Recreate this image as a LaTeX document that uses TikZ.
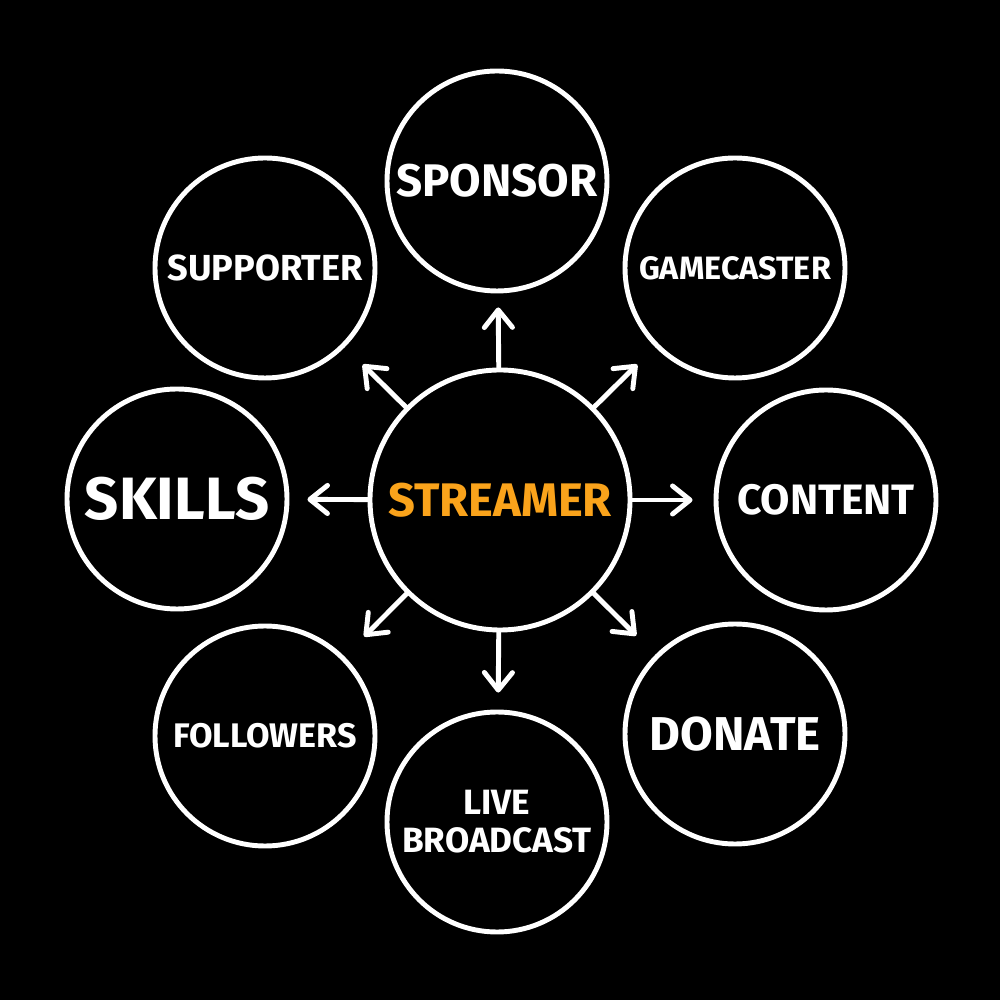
\documentclass[tikz,border=0pt]{standalone}
\usepackage{fontspec}
\setmainfont{Fira Sans}
\usepackage{xcolor}
\usepackage{tikz}
\usetikzlibrary{arrows.meta, positioning}

\definecolor{streamorange}{RGB}{250,163,27}

\begin{document}
\begin{tikzpicture}[
  bubble/.style={
    circle,
    draw=white,
    fill=black,
    line width=1.4pt,
    minimum size=2.2cm,
    inner sep=0pt,
    align=center,
    text=white,
    font=\bfseries
  },
  hub/.style={
    bubble,
    minimum size=2.6cm
  },
  arr/.style={
    draw=white,
    line width=1.4pt,
    line cap=round,
    -{Straight Barb[length=5pt,width=8pt,round]}
  }
]

% background
\fill[black] (-5,-5) rectangle (5,5);
\useasboundingbox (-5,-5) rectangle (5,5);

% -------------------------------------------------------------------
% centre
% -------------------------------------------------------------------
\node[hub, text=streamorange, font=\bfseries\fontsize{13.4}{15}\selectfont]
  (streamer) at (0,0) {STREAMER};

% -------------------------------------------------------------------
% outer ring
% -------------------------------------------------------------------
\node[bubble, font=\bfseries\fontsize{13}{15}\selectfont]
  (sponsor) at (-0.03,3.19) {SPONSOR};

\node[bubble, font=\bfseries\fontsize{9.2}{11}\selectfont]
  (gamecaster) at (2.35,2.32) {GAMECASTER};

\node[bubble, font=\bfseries\fontsize{12.1}{14}\selectfont]
  (content) at (3.26,0) {CONTENT};

\node[bubble, font=\bfseries\fontsize{13.5}{15}\selectfont]
  (donate) at (2.35,-2.34) {DONATE};

\node[bubble, font=\bfseries\fontsize{10}{10.8}\selectfont]
  (live) at (-0.03,-3.22) {LIVE\\BROADCAST};

\node[bubble, font=\bfseries\fontsize{9.7}{11}\selectfont]
  (followers) at (-2.35,-2.36) {FOLLOWERS};

\node[bubble, font=\bfseries\fontsize{17}{19}\selectfont]
  (skills) at (-3.23,0.01) {SKILLS};

\node[bubble, font=\bfseries\fontsize{10.3}{12}\selectfont]
  (supporter) at (-2.35,2.32) {SUPPORTER};

% -------------------------------------------------------------------
% arrows
% -------------------------------------------------------------------
\draw[arr, shorten >=0.14cm] (streamer) -- (sponsor);
\draw[arr, shorten >=0.25cm] (streamer) -- (gamecaster);
\draw[arr, shorten >=0.21cm] (streamer) -- (content);
\draw[arr, shorten >=0.27cm] (streamer) -- (donate);
\draw[arr, shorten >=0.17cm] (streamer) -- (live);
\draw[arr, shorten >=0.28cm] (streamer) -- (followers);
\draw[arr, shorten >=0.18cm] (streamer) -- (skills);
\draw[arr, shorten >=0.25cm] (streamer) -- (supporter);

\end{tikzpicture}
\end{document}
